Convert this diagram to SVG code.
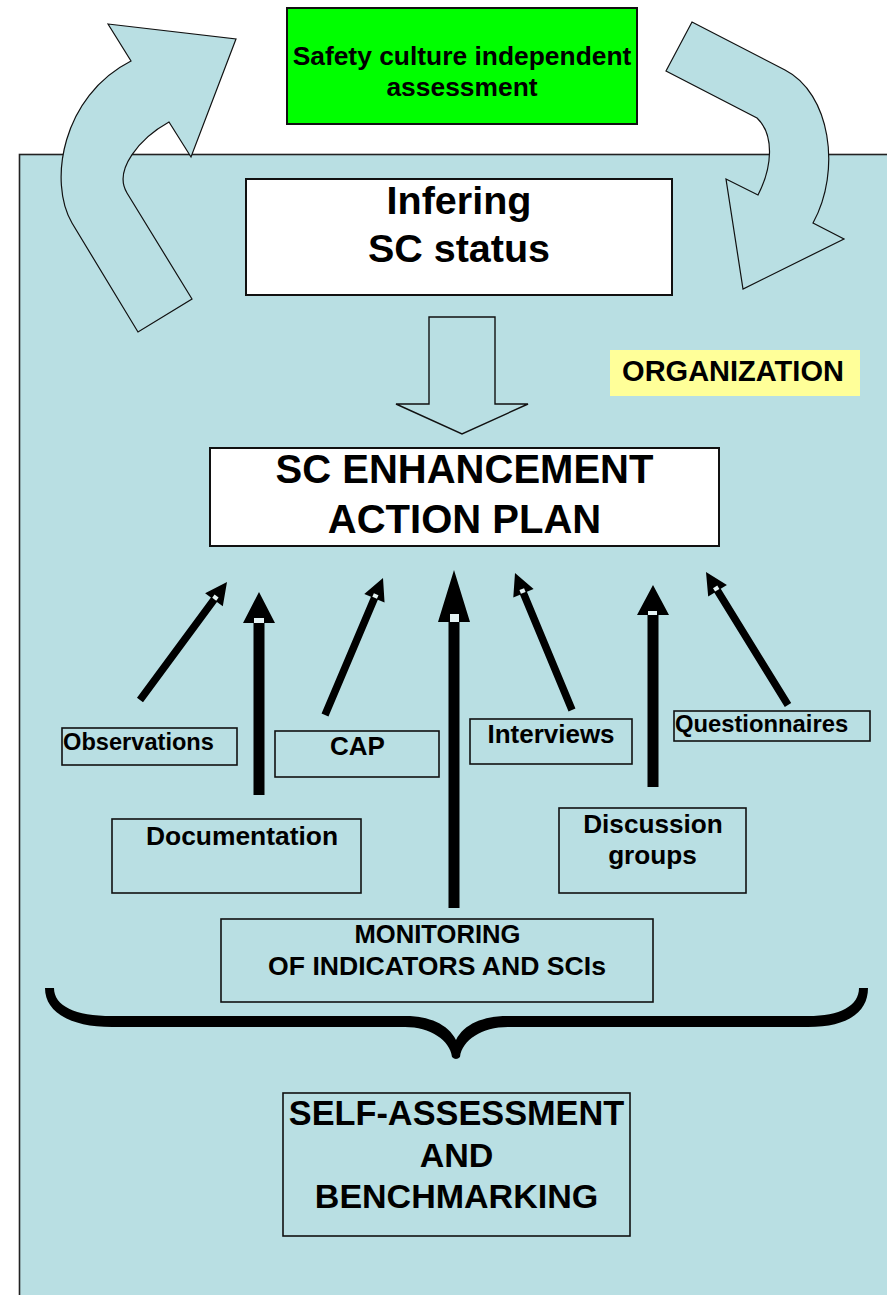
<svg xmlns="http://www.w3.org/2000/svg" width="887" height="1295" viewBox="0 0 887 1295">
  <style>
    .lbl { font-family: "Liberation Sans", Arial, "DejaVu Sans", sans-serif; font-weight: bold; fill: #000; text-anchor: middle; }
    .box { fill: none; stroke: #111; stroke-width: 1.6; }
    .wbox { fill: #ffffff; stroke: #111; stroke-width: 2; }
    .blk { fill: #000; stroke: none; }
    .nick { fill: #e4f2f3; stroke: none; }
    .bend { fill: #b9dfe3; stroke: #111; stroke-width: 1.2; stroke-linejoin: miter; }
  </style>

  <rect width="887" height="1295" fill="#ffffff"/>

  <!-- organization area -->
  <g id="organization-area">
    <rect x="19.5" y="154.5" width="900" height="1200" fill="#b9dfe3" stroke="#222" stroke-width="1.6"/>
  </g>

  <g id="connectors">
    <!-- curved arrow: organization up to independent assessment -->
    <path class="bend" d="M 108 24 L 236 39 L 191 157 L 169 122 C 140 138, 113 170, 127 193 L 192 299 L 138 332 L 72 223 C 48 182, 62 96, 131 61 Z"/>
    <!-- curved arrow: independent assessment back down to organization -->
    <path class="bend" d="M 692 22 L 785 70 C 830 93, 842 170, 813 223 L 844 239 L 743 289 L 726 179 L 758 195 C 772 168, 775 135, 757 118 L 666 71 Z"/>

    <!-- hollow arrow: inferring status to action plan -->
    <polygon points="429,317 495,317 495,404 528,404 462,434 396,404 429,404" fill="#b9dfe3" stroke="#111" stroke-width="1.4"/>

    <!-- thick input arrows toward the action plan -->
    <polygon class="blk" points="143.02,702.23 216.97,601.94 222.80,606.24 227,582 205.10,593.18 210.93,597.49 136.98,697.77"/>
    <rect class="nick" x="-2" y="-2.5" width="4" height="5" transform="translate(215.4,597.7) rotate(-53.6)"/>

    <polygon class="blk" points="253.5,795 253.5,623 243,623 259,592 275,623 264.5,623 264.5,795"/>
    <rect class="nick" x="254" y="618" width="10" height="5"/>

    <polygon class="blk" points="328.45,716.46 377.87,599.72 384.55,602.55 383,578 364.29,593.97 370.97,596.80 321.55,713.54"/>
    <rect class="nick" x="-2" y="-2.5" width="4" height="5" transform="translate(375.4,596) rotate(-67.05)"/>

    <polygon class="blk" points="448.5,908 448.5,622 438,622 454,570 470,622 459.5,622 459.5,908"/>
    <rect class="nick" x="450" y="614" width="9" height="8"/>

    <polygon class="blk" points="575.46,708.56 526.91,591.87 533.61,589.08 515,573 513.29,597.54 519.99,594.75 568.54,711.44"/>
    <rect class="nick" x="-2" y="-2.5" width="4" height="5" transform="translate(522.5,591) rotate(-112.6)"/>

    <polygon class="blk" points="647.5,787 647.5,615 637,615 653,585 669,615 658.5,615 658.5,787"/>
    <rect class="nick" x="648" y="611" width="9" height="4"/>

    <polygon class="blk" points="791.19,703.03 720.74,588.76 726.92,584.96 706,572 708.18,596.50 714.36,592.70 784.81,706.97"/>
    <rect class="nick" x="-2" y="-2.5" width="4" height="5" transform="translate(716.2,588.6) rotate(-121.65)"/>
  </g>

  <g id="independent-assessment">
    <rect x="287" y="8" width="350" height="116" fill="#00ff00" stroke="#111" stroke-width="2"/>
    <text class="lbl" x="462" y="65" font-size="26.4">Safety culture independent</text>
    <text class="lbl" x="462" y="96" font-size="26.4">assessment</text>
  </g>

  <g id="inferring-status">
    <rect class="wbox" x="246" y="179" width="426" height="116"/>
    <text class="lbl" x="459" y="214" font-size="39.5">Infering</text>
    <text class="lbl" x="459" y="262" font-size="39.5">SC status</text>
  </g>

  <g id="organization-label">
    <rect x="610" y="350" width="250" height="46" fill="#ffff99"/>
    <text class="lbl" x="733" y="381" font-size="29">ORGANIZATION</text>
  </g>

  <g id="action-plan">
    <rect class="wbox" x="210" y="448" width="509" height="98"/>
    <text class="lbl" x="464.5" y="483" font-size="40">SC ENHANCEMENT</text>
    <text class="lbl" x="464.5" y="533" font-size="40">ACTION PLAN</text>
  </g>

  <g id="observations">
    <rect class="box" x="62" y="728" width="175" height="37"/>
    <text class="lbl" x="138.5" y="750" font-size="23.6">Observations</text>
  </g>

  <g id="cap">
    <rect class="box" x="275" y="731" width="164" height="46"/>
    <text class="lbl" x="357.5" y="755" font-size="26">CAP</text>
  </g>

  <g id="interviews">
    <rect class="box" x="470" y="719" width="162" height="45"/>
    <text class="lbl" x="551" y="743" font-size="26">Interviews</text>
  </g>

  <g id="questionnaires">
    <rect class="box" x="674" y="711" width="196" height="30"/>
    <text class="lbl" x="761.5" y="732" font-size="23.8">Questionnaires</text>
  </g>

  <g id="documentation">
    <rect class="box" x="112" y="819" width="249" height="74"/>
    <text class="lbl" x="242" y="845" font-size="26.4">Documentation</text>
  </g>

  <g id="discussion-groups">
    <rect class="box" x="559" y="808" width="187" height="85"/>
    <text class="lbl" x="653" y="833" font-size="26.2">Discussion</text>
    <text class="lbl" x="652.5" y="864" font-size="26.2">groups</text>
  </g>

  <g id="monitoring">
    <rect class="box" x="221" y="919" width="432" height="83"/>
    <text class="lbl" x="437.5" y="943" font-size="25.6">MONITORING</text>
    <text class="lbl" x="437" y="975" font-size="26.6">OF INDICATORS AND SCIs</text>
  </g>

  <!-- brace gathering the self-assessment sources -->
  <g id="brace">
    <path class="blk" d="M 45 988 C 45 1012, 70 1027, 112 1027 L 405 1027 C 430 1027, 450 1040, 452 1057 Q 456 1061, 460 1057 C 462 1040, 482 1027, 508 1027 L 808 1027 C 848 1027, 868 1012, 868 988 L 859 988 C 859 1006, 840 1016, 808 1016 L 508 1016 C 483 1016, 464 1024, 456 1040 C 448 1024, 429 1016, 405 1016 L 112 1016 C 75 1016, 54 1006, 54 988 Z"/>
  </g>

  <g id="self-assessment">
    <rect class="box" x="283" y="1093" width="347" height="143" stroke-width="2"/>
    <text class="lbl" x="456.5" y="1125" font-size="34.3">SELF-ASSESSMENT</text>
    <text class="lbl" x="456.5" y="1167" font-size="34">AND</text>
    <text class="lbl" x="456.5" y="1208" font-size="34">BENCHMARKING</text>
  </g>
</svg>
